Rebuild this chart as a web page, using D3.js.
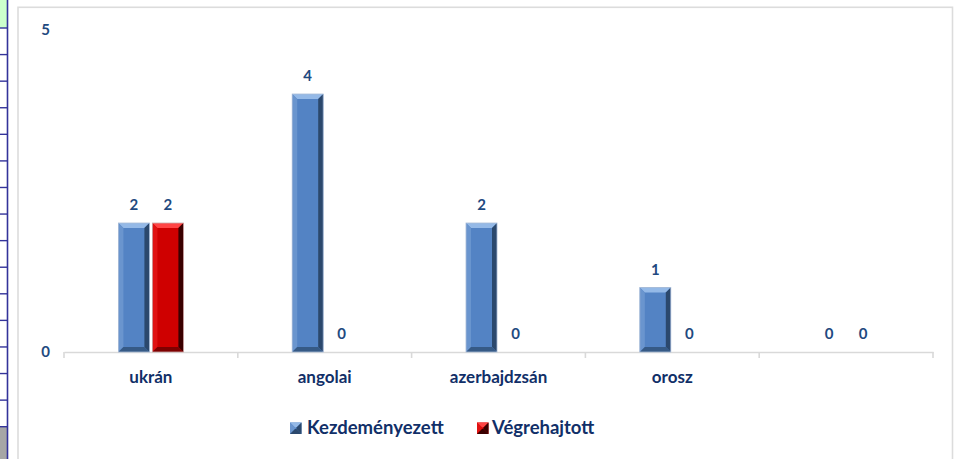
<!DOCTYPE html>
<html>
<head>
<meta charset="utf-8">
<script src="https://cdn.jsdelivr.net/npm/d3@7"></script>
<style>
  html, body { margin: 0; padding: 0; background: #fff; }
  svg { display: block; font-family: Lato, "Open Sans", sans-serif; }
</style>
</head>
<body>
<svg id="chart" width="959" height="459"></svg>
<script>
// Data
const categories = ["ukrán", "angolai", "azerbajdzsán", "orosz", ""];
const seriesNames = ["Kezdeményezett", "Végrehajtott"];
const kezdemenyezett = [2, 4, 2, 1, 0];
const vegrehajtott = [2, 0, 0, 0, 0];
const yTickValues = [0, 5];

const seriesValues = [kezdemenyezett, vegrehajtott];

// Bevel palettes per series
const palettes = [
  { body: "#5383c4", top: "#94b9e7", left: "#6a95ce", right: "#2b486d", bottom: "#365a86", edge: "#a9bcd8" },
  { body: "#cf0000", top: "#ff4545", left: "#e01212", right: "#3a0000", bottom: "#7e0000", edge: "#c9a9a9" }
];
const textColor = "#112f68";
const labelColor = "#1f4a80";

const svg = d3.select("#chart");

// Worksheet cells showing to the left of the chart object
const sheet = svg.append("g");
sheet.append("rect").attr("x", 0).attr("y", 0).attr("width", 7).attr("height", 28).attr("fill", "#ccffcc");
sheet.append("rect").attr("x", 0).attr("y", 427).attr("width", 7).attr("height", 32).attr("fill", "#a6a6a6");
d3.range(16).forEach(k => {
  const yy = 28 + 26.58 * k;
  sheet.append("line").attr("x1", 0).attr("x2", 8).attr("y1", yy).attr("y2", yy)
    .attr("stroke", "#33339a").attr("stroke-width", 1.4);
});
sheet.append("line").attr("x1", 7.5).attr("x2", 7.5).attr("y1", 0).attr("y2", 459)
  .attr("stroke", "#33339a").attr("stroke-width", 1.6);

// Chart frame
svg.append("rect").attr("x", 18).attr("y", 7.3).attr("width", 934.5).attr("height", 470)
  .attr("fill", "#fff").attr("stroke", "#dcdcdc").attr("stroke-width", 1.6);

// Scales
const plotLeft = 64, plotRight = 933, baseY = 352;
const x0 = d3.scaleBand().domain(categories.map((c, i) => i)).range([plotLeft, plotRight]).padding(0);
const x1 = d3.scaleBand().domain(d3.range(seriesNames.length)).range([0, x0.bandwidth()])
  .paddingInner(0.088).paddingOuter(1.6);
const y = d3.scaleLinear().domain([0, 5]).range([baseY, 29.5]);

// Y axis (labels only)
const yAxis = svg.append("g").attr("transform", `translate(${plotLeft},0)`)
  .call(d3.axisLeft(y).tickValues(yTickValues).tickSize(0).tickPadding(14).tickFormat(d3.format("d")));
yAxis.select(".domain").remove();
yAxis.selectAll("text").attr("fill", labelColor).attr("font-size", 15).attr("font-weight", 700)
  .attr("font-family", "Lato, sans-serif");

// X axis: line with boundary ticks, labels centred in each band
const xAxis = svg.append("g").attr("transform", `translate(0,${baseY})`)
  .call(d3.axisBottom(x0).tickSize(0).tickPadding(18.5).tickFormat(i => categories[i]));
xAxis.select(".domain").attr("stroke", "#d9d9d9").attr("stroke-width", 1.6);
xAxis.selectAll("text").attr("fill", textColor).attr("font-size", 17).attr("font-weight", 700)
  .attr("font-family", "Lato, sans-serif");
const boundaries = categories.map((c, i) => x0(i)).concat([plotRight]);
xAxis.selectAll("line.bound").data(boundaries).join("line").attr("class", "bound")
  .attr("x1", d => d).attr("x2", d => d).attr("y1", 0).attr("y2", 6)
  .attr("stroke", "#d9d9d9").attr("stroke-width", 1.6);

// Bevelled bar drawing
function bevelBar(g, bx, by, bw, bh, p) {
  const b = Math.min(5, bh / 2, bw / 2);
  const x2 = bx + bw, y2 = by + bh;
  g.append("rect").attr("x", bx).attr("y", by).attr("width", bw).attr("height", bh).attr("fill", p.body);
  const poly = (pts, fill) => g.append("polygon").attr("points", pts.map(q => q.join(",")).join(" ")).attr("fill", fill);
  poly([[bx, by], [x2, by], [x2 - b, by + b], [bx + b, by + b]], p.top);
  poly([[bx, by], [bx + b, by + b], [bx + b, y2 - b], [bx, y2]], p.left);
  poly([[x2, by], [x2, y2], [x2 - b, y2 - b], [x2 - b, by + b]], p.right);
  poly([[bx, y2], [bx + b, y2 - b], [x2 - b, y2 - b], [x2, y2]], p.bottom);
  if (p.edge !== "none") {
    g.append("rect").attr("x", bx).attr("y", by).attr("width", bw).attr("height", bh)
      .attr("fill", "none").attr("stroke", p.edge).attr("stroke-width", 0.8);
  }
}

// Bars and value labels
const bars = svg.append("g");
categories.forEach((c, i) => {
  seriesValues.forEach((vals, s) => {
    const v = vals[i];
    const bx = x0(i) + x1(s);
    const bw = x1.bandwidth();
    const top = y(v);
    const h = baseY - top;
    if (h > 0.5) bevelBar(bars.append("g"), bx, top, bw, h, palettes[s]);
    bars.append("text").attr("x", bx + bw / 2).attr("y", top - 13)
      .attr("text-anchor", "middle").attr("fill", labelColor)
      .attr("font-size", 15).attr("font-weight", 700).attr("font-family", "Lato, sans-serif")
      .text(v);
  });
});

// Legend
const legendItems = [
  { name: seriesNames[0], x: 290, tx: 307 },
  { name: seriesNames[1], x: 477, tx: 492 }
];
const legend = svg.append("g");
legendItems.forEach((it, s) => {
  bevelBar(legend.append("g"), it.x, 422.5, 11.5, 11.5,
    Object.assign({}, palettes[s], { edge: "none", bottom: palettes[s].right, b: 3 }));
  legend.append("text").attr("x", it.tx).attr("y", 433.5)
    .attr("fill", textColor).attr("font-size", 18.5).attr("font-weight", 700)
    .attr("font-family", "Lato, sans-serif").text(it.name);
});
</script>
</body>
</html>
